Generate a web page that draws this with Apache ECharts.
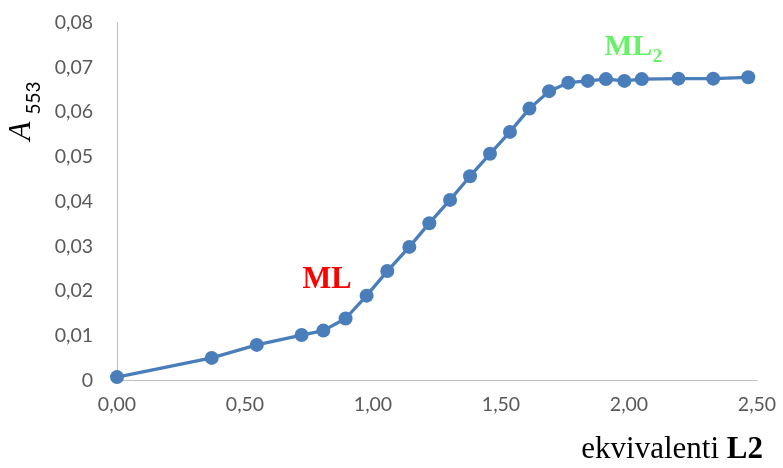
<!DOCTYPE html>
<html>
<head>
<meta charset="utf-8">
<script src="https://cdn.jsdelivr.net/npm/echarts@6/dist/echarts.min.js"></script>
<style>
html,body{margin:0;padding:0;background:#fff;}
#chart{width:783px;height:468px;}
</style>
</head>
<body>
<div id="chart"></div>
<script>
const equivalents = [0, 0.370, 0.546, 0.721, 0.806, 0.893, 0.975, 1.056, 1.142, 1.220, 1.301, 1.379, 1.457, 1.535, 1.611, 1.688, 1.763, 1.839, 1.910, 1.982, 2.050, 2.193, 2.329, 2.466];
const absorbance = [0.0008, 0.0051, 0.0080, 0.0102, 0.0112, 0.0139, 0.0190, 0.0245, 0.0299, 0.0352, 0.0404, 0.0457, 0.0507, 0.0556, 0.0608, 0.0647, 0.0666, 0.0670, 0.0674, 0.0670, 0.0674, 0.0675, 0.0675, 0.0678];
const xTitle = ['ekvivalenti ', 'L2'];
const yTitle = ['A', '553'];
const annotations = ['ML', 'ML', '2'];

const chart = echarts.init(document.getElementById('chart'), null, {renderer: 'canvas'});
const fmt = v => v === 0 ? '0' : v.toFixed(2).replace('.', ',');
const fmtX = v => v.toFixed(2).replace('.', ',');
const serif = '"Liberation Serif", "Times New Roman", serif';
const sans = 'Lato, "Open Sans", sans-serif';

chart.setOption({
  animation: false,
  grid: {left: 117, right: 26, top: 22.7, bottom: 87.3, containLabel: false},
  xAxis: {
    type: 'value', min: 0, max: 2.5, interval: 0.5,
    axisLine: {show: true, onZero: false, lineStyle: {color: '#bfbfbf', width: 1}},
    axisTick: {show: false},
    splitLine: {show: false},
    axisLabel: {formatter: fmtX, color: '#595959', fontSize: 19.5, fontFamily: sans, margin: 14}
  },
  yAxis: {
    type: 'value', min: 0, max: 0.08, interval: 0.01,
    axisLine: {show: true, lineStyle: {color: '#bfbfbf', width: 1}},
    axisTick: {show: false},
    splitLine: {show: false},
    axisLabel: {formatter: fmt, color: '#595959', fontSize: 19.5, fontFamily: sans, margin: 24}
  },
  series: [{
    type: 'line',
    data: equivalents.map((x, i) => [x, absorbance[i]]),
    symbol: 'circle', symbolSize: 14,
    lineStyle: {color: '#4a7ebb', width: 3.3},
    itemStyle: {color: '#4a7ebb'}
  }],
  graphic: [
    {type: 'text', x: 763, y: 450, style: {
      text: '{n|' + xTitle[0] + '}{b|' + xTitle[1] + '}', align: 'right', verticalAlign: 'middle',
      rich: {n: {fontFamily: serif, fontSize: 31, fill: '#000'}, b: {fontFamily: serif, fontSize: 31, fontWeight: 'bold', fill: '#000'}}
    }},
    {type: 'text', x: 22, y: 131, rotation: Math.PI / 2, style: {
      text: yTitle[0], fontFamily: serif, fontStyle: 'italic', fontSize: 31, fill: '#000', align: 'center', verticalAlign: 'middle'
    }},
    {type: 'text', x: 33.5, y: 98, rotation: Math.PI / 2, style: {
      text: yTitle[1], fontFamily: sans, fontSize: 19, fill: '#000', align: 'center', verticalAlign: 'middle'
    }},
    {type: 'text', x: 327, y: 280, style: {
      text: annotations[0], fontFamily: serif, fontWeight: 'bold', fontSize: 30.5, fill: '#ff0000', align: 'center', verticalAlign: 'middle'
    }},
    {type: 'text', x: 628.3, y: 47, style: {
      text: annotations[1], fontFamily: serif, fontWeight: 'bold', fontSize: 29.5, fill: '#66f266', align: 'center', verticalAlign: 'middle'
    }},
    {type: 'text', x: 657.5, y: 57, style: {
      text: annotations[2], fontFamily: serif, fontWeight: 'bold', fontSize: 19, fill: '#66f266', align: 'center', verticalAlign: 'middle'
    }}
  ]
});
</script>
</body>
</html>
